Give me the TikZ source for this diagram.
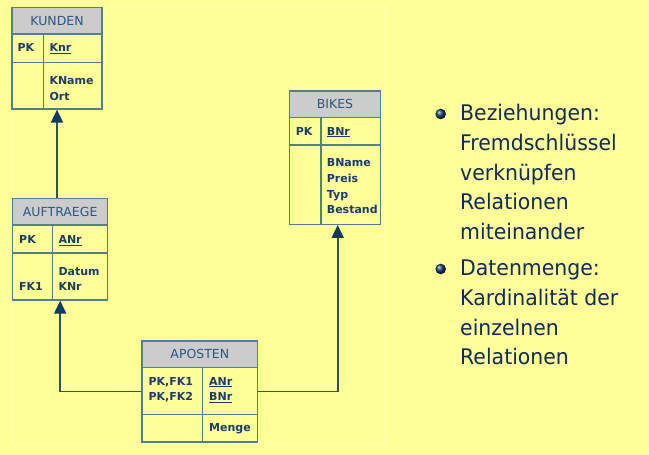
\documentclass[tikz,border=0pt]{standalone}
\usepackage{fontspec}
\setmainfont{DejaVu Sans}
\newfontfamily\bulletfont{DejaVu Sans}[FakeStretch=0.95]
\usetikzlibrary{arrows.meta}
\definecolor{bg}{HTML}{FFFF99}
\definecolor{faint}{HTML}{FFFFBC}
\definecolor{hdr}{HTML}{CCCCCC}
\definecolor{bordc}{HTML}{557F8A}
\definecolor{tabtxt}{HTML}{1C3D6B}
\definecolor{hdrtxt}{HTML}{2B5783}
\definecolor{connc}{HTML}{2F5364}
\definecolor{tipc}{HTML}{123A63}
\definecolor{bultxt}{HTML}{112C58}
\tikzset{
  tbl/.style={draw=bordc, line width=1.3pt, inner sep=0pt, rectangle},
  tline/.style={draw=bordc, line width=1.3pt},
  hdrfill/.style={fill=hdr},
  hdrlabel/.style={font=\fontsize{12.5}{14}\selectfont, text=hdrtxt, inner sep=0pt},
  fld/.style={font=\bfseries\fontsize{11}{13}\selectfont, text=tabtxt, inner sep=0pt, anchor=base west},
  conn/.style={draw=connc, line width=1.8pt, -{Triangle[width=12pt,length=13pt,color=tipc]}},
  bul/.style={font=\bulletfont\fontsize{21.5}{29.7}\selectfont, text=bultxt, inner sep=0pt, anchor=base west}
}
\begin{document}
\begin{tikzpicture}[x=1pt,y=-1pt]
\useasboundingbox (0,0) rectangle (649,455);
\fill[bg] (0,0) rectangle (649,455);
\draw[faint, line width=1pt] (12.5,7.5) rectangle (385.5,443);

% KUNDEN
\fill[hdrfill] (12,7.3) rectangle (102,34);
\node[tbl, minimum width=90pt, minimum height=101.7pt] (kunden) at (57,58.15) {};
\draw[tline] (12,34) -- (102,34) (12,62.7) -- (102,62.7) (43.3,34) -- (43.3,109);
\node[hdrlabel] (kundenh) at (57,20.6) {KUNDEN};
\node[fld] (k1) at (17.3,52) {PK};
\node[fld] (k2) at (49.3,52) {\underline{Knr}};
\node[fld] (k3) at (49.3,84) {KName};
\node[fld] (k4) at (49.3,100) {Ort};

% AUFTRAEGE
\fill[hdrfill] (12.7,198.3) rectangle (107.7,225);
\node[tbl, minimum width=95pt, minimum height=101.7pt] (auftraege) at (60.2,249.15) {};
\draw[tline] (12.7,225) -- (107.7,225) (12.7,253) -- (107.7,253) (52.7,225) -- (52.7,300);
\node[hdrlabel] (auftraegeh) at (60.2,211.7) {AUFTRAEGE};
\node[fld] (a1) at (19,243.3) {PK};
\node[fld] (a2) at (58.3,243.3) {\underline{ANr}};
\node[fld] (a3) at (58.3,275) {Datum};
\node[fld] (a4) at (19,290) {FK1};
\node[fld] (a5) at (58.3,290) {KNr};

% BIKES
\fill[hdrfill] (289.3,91) rectangle (380.7,117.7);
\node[tbl, minimum width=91.4pt, minimum height=133.3pt] (bikes) at (335,157.65) {};
\draw[tline] (289.3,117.7) -- (380.7,117.7) (289.3,145) -- (380.7,145) (321,117.7) -- (321,224.3);
\node[hdrlabel] (bikesh) at (335,104.4) {BIKES};
\node[fld] (b1) at (295.7,135) {PK};
\node[fld] (b2) at (326.7,135) {\underline{BNr}};
\node[fld] (b3) at (326.7,166.5) {BName};
\node[fld] (b4) at (326.7,182.3) {Preis};
\node[fld] (b5) at (326.7,198.1) {Typ};
\node[fld] (b6) at (326.7,213.9) {Bestand};

% APOSTEN
\fill[hdrfill] (142,341) rectangle (257.7,367.3);
\node[tbl, minimum width=115.7pt, minimum height=101pt] (aposten) at (199.85,391.5) {};
\draw[tline] (142,367.3) -- (257.7,367.3) (142,414.3) -- (257.7,414.3) (202.3,367.3) -- (202.3,442);
\node[hdrlabel] (apostenh) at (199.85,354.3) {APOSTEN};
\node[fld] (p1) at (148.3,385) {PK,FK1};
\node[fld] (p2) at (148.3,400.7) {PK,FK2};
\node[fld] (p3) at (209,385) {\underline{ANr}};
\node[fld] (p4) at (209,400.7) {\underline{BNr}};
\node[fld] (p5) at (209,431.7) {Menge};

% connectors
\draw[conn] (auftraege.north -| kunden.south) -- (kunden.south);
\draw[conn] (aposten.west) -| (auftraege.south);
\coordinate (bk) at ([xshift=2.7pt]bikes.south);
\draw[conn] (aposten.east) -| (bk);

% bullets
\shade[ball color=tipc] (440.7,114) circle (5.3pt);
\shade[ball color=tipc] (440.7,269) circle (5.3pt);
\node[bul] (l1) at (460,120.7) {Beziehungen:};
\node[bul] (l2) at (460,150.7) {Fremdschlüssel};
\node[bul] (l3) at (460,180.2) {verknüpfen};
\node[bul] (l4) at (460,209.9) {Relationen};
\node[bul] (l5) at (460,239.3) {miteinander};
\node[bul] (l6) at (460,275.5) {Datenmenge:};
\node[bul] (l7) at (460,305.3) {Kardinalität der};
\node[bul] (l8) at (460,335) {einzelnen};
\node[bul] (l9) at (460,364.7) {Relationen};
\end{tikzpicture}
\end{document}
